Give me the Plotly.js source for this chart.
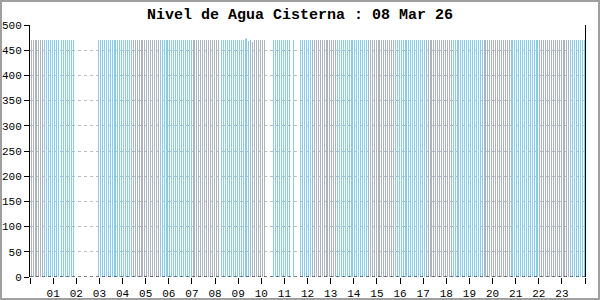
<!DOCTYPE html>
<html>
<head>
<meta charset="utf-8">
<script src="https://cdn.plot.ly/plotly-3.0.1.min.js"></script>
<style>
  html, body { margin: 0; padding: 0; background: #fff; }
  #wrap { position: relative; width: 600px; height: 300px; }
  #chart { width: 600px; height: 300px; }
  #chart .barlayer path { shape-rendering: crispEdges !important; }
  #frame { position: absolute; left: 0; top: 0; width: 596px; height: 296px;
           border: 2px solid #a0a0a0; pointer-events: none; }
</style>
</head>
<body>
<div id="wrap"><div id="chart"></div><div id="frame"></div></div>
<script>
// ---- data (5-minute samples, minutes after 00:00) ----
const titleText = 'Nivel de Agua Cisterna : 08 Mar 26';
const sampleStepMin = 5;
// first sample minute of each run of consecutive samples
const segStartMin = [3, 38, 83, 178, 268, 338, 423, 498, 573, 633, 683, 703, 733, 798, 878, 948, 1028, 1098, 1178, 1248, 1323, 1403];
// state of each run (colour group)
const segState = ['gris','cian','cian','cian','gris','cian','gris','cian','gris','cian','cian','cian','gris','cian','gris','cian','gris','cian','gris','cian','gris','cian'];
// water level of every sample in each run
const segValues = [
  [470,470,470,470,470,470,470],
  [470,470,470,470,470,470,470,470],
  [470,470,470,470,470,470,470],
  [470,470,470,470,470,470,470,470,470,470,470,470,470,470,470,470,470,470],
  [470,470,470,470,470,470,470,470,470,470,470,470,470,470],
  [470,470,470,470,470,470,470,470,470,470,470,470,470,470,470,470,470],
  [470,470,470,470,470,470,470,470,470,470,470,470,470,470],
  [470,470,470,470,470,470,470,470,470,470,470,470,472,474,468],
  [470,466,470,470,470,470,470,470],
  [470,470,470,470,470,470,470,470,470],
  [470],
  [470,470,470,470,470,470],
  [470,470,470,470,470,470,470,470,470,470,470,470,470],
  [470,470,470,470,470,470,470,470,470,470,470,470,470,470,470,470],
  [470,470,470,470,470,470,470,470,470,470,470,470,470,470],
  [470,470,470,470,470,470,470,470,470,470,470,470,470,470,470,470],
  [470,470,470,470,470,470,470,470,470,470,470,470,470,470],
  [470,470,470,470,470,470,470,470,470,470,470,470,470,470,470,470],
  [470,470,470,470,470,470,470,470,470,470,470,470,470,470],
  [470,470,470,470,470,470,470,470,470,470,470,470,470,470,470],
  [470,470,470,470,470,470,470,470,470,470,470,470,470,470,470,470],
  [470,470,470,470,470,470,470,470]
];
const hourTickVals = [0,1,2,3,4,5,6,7,8,9,10,11,12,13,14,15,16,17,18,19,20,21,22,23,24];
const hourTickText = ['','01','02','03','04','05','06','07','08','09','10','11','12','13','14','15','16','17','18','19','20','21','22','23',''];
const levelTickVals = [0,50,100,150,200,250,300,350,400,450,500];

// ---- styles ----
// alpha just below 1 makes Plotly round bar edges to whole pixels
const stateColor = { cian: 'rgba(135,205,235,0.999)', gris: 'rgba(171,179,191,0.999)' };
const plotWidthPx = 555;

const groups = { cian: {x: [], y: []}, gris: {x: [], y: []} };
segStartMin.forEach((start, i) => {
  segValues[i].forEach((v, k) => {
    groups[segState[i]].x.push((start + k * sampleStepMin) / 60);
    groups[segState[i]].y.push(v);
  });
});

// one screen pixel wide bars
const barWidthHours = 24 / plotWidthPx;
const traces = Object.keys(groups).map(name => ({
  type: 'bar',
  x: groups[name].x,
  y: groups[name].y,
  width: barWidthHours,
  marker: { color: stateColor[name], line: { width: 0 } },
  hoverinfo: 'none',
  showlegend: false
}));

const tickFont = { family: 'Liberation Mono, DejaVu Sans Mono, monospace', size: 11, color: '#000' };

const layout = {
  width: 600, height: 300,
  margin: { l: 30, r: 15, t: 25, b: 23, pad: 0 },
  paper_bgcolor: '#ffffff',
  plot_bgcolor: '#ffffff',
  bargap: 0,
  bargroupgap: 0,
  barmode: 'overlay',
  hovermode: false,
  title: {
    text: titleText,
    font: { family: 'Liberation Mono, Courier New, monospace', size: 15, color: '#000', weight: 'bold' },
    x: 0.5, xanchor: 'center', y: 1 - 14/300, yanchor: 'middle', yref: 'container'
  },
  xaxis: {
    range: [0, 24],
    tickmode: 'array', tickvals: hourTickVals, ticktext: hourTickText,
    ticks: 'outside', ticklen: 6, tickcolor: '#000', tickwidth: 1,
    showgrid: false, zeroline: false, showline: false,
    tickfont: tickFont, fixedrange: true
  },
  yaxis: {
    range: [0, 500],
    tickmode: 'array', tickvals: levelTickVals,
    ticks: 'outside', ticklen: 5, tickcolor: '#000', tickwidth: 1,
    showline: true, linecolor: '#000', linewidth: 1, mirror: true,
    showgrid: true, gridcolor: '#bdbdbd', gridwidth: 1, griddash: 'dot',
    zeroline: false, tickfont: tickFont, fixedrange: true
  },
  xaxis2: {
    overlaying: 'x', anchor: 'y', range: [0, 24],
    tickmode: 'array', tickvals: hourTickVals, showticklabels: false,
    ticks: 'inside', ticklen: 2, tickcolor: '#000',
    showgrid: false, zeroline: false, showline: false, fixedrange: true
  },
  yaxis2: {
    overlaying: 'y', anchor: 'x', range: [0, 500],
    tickmode: 'array', tickvals: levelTickVals, showticklabels: false,
    ticks: 'inside', ticklen: 3, tickcolor: '#000',
    showgrid: false, zeroline: false, showline: false, fixedrange: true
  },
  shapes: [{
    type: 'line', xref: 'paper', yref: 'y', x0: 0, x1: 1, y0: 0, y1: 0,
    line: { color: '#000', width: 1, dash: 'dot' }, layer: 'above'
  }]
};

Plotly.newPlot('chart', traces, layout, { displayModeBar: false, responsive: false });
</script>
</body>
</html>
